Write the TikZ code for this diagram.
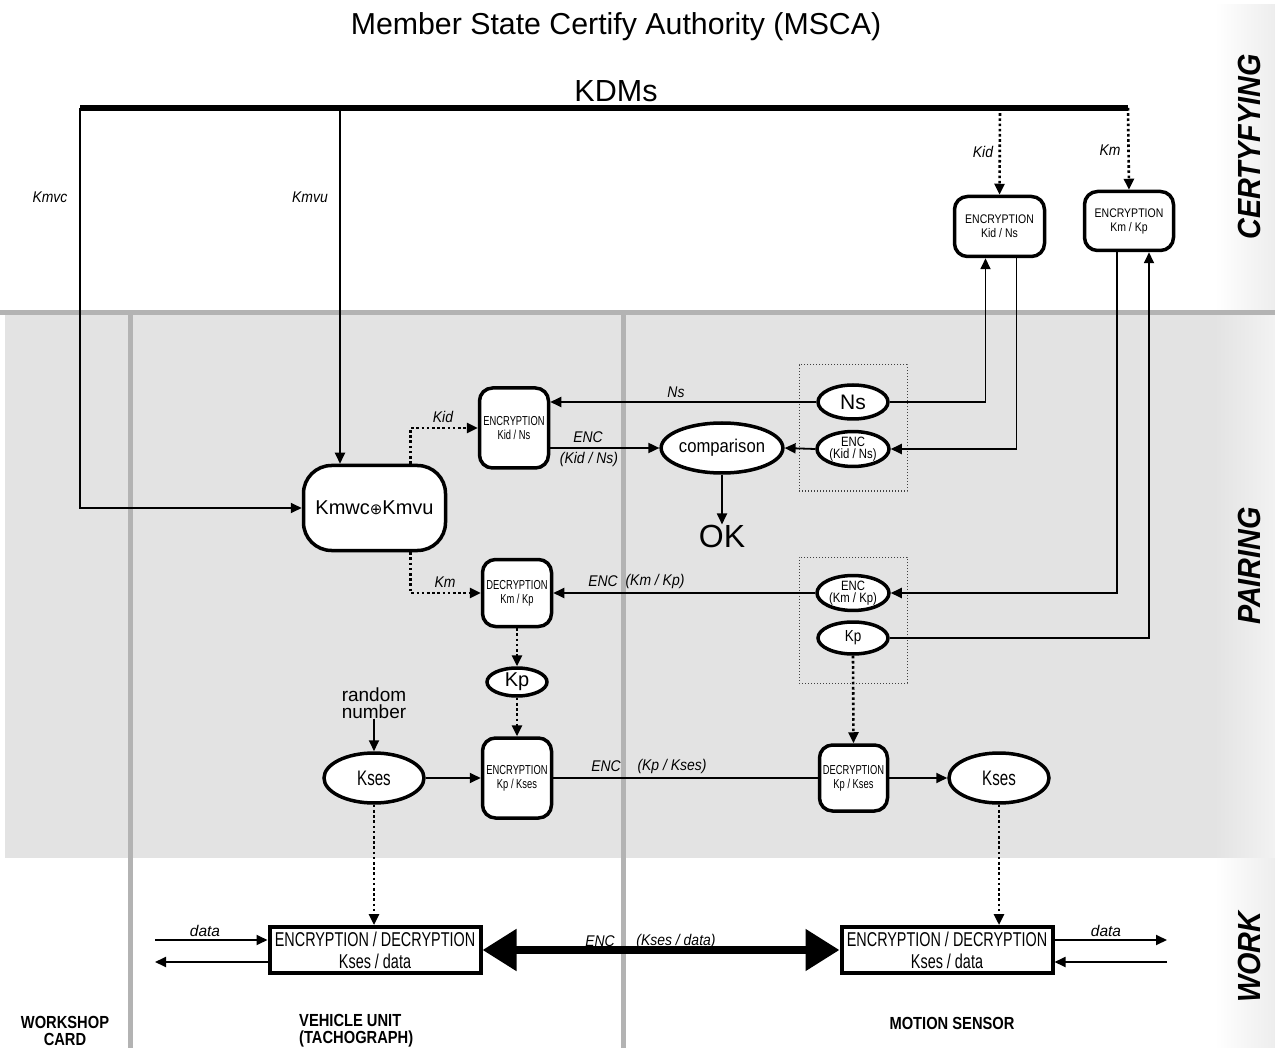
\documentclass[tikz,border=0pt]{standalone}
\usepackage{fontspec}
\setmainfont{Liberation Sans}
\newfontfamily\fA[FakeStretch=0.72]{Liberation Sans}
\newfontfamily\fB[FakeStretch=0.84]{Liberation Sans}
\newfontfamily\fC[FakeStretch=0.9]{Liberation Sans}
\usetikzlibrary{arrows.meta,shapes.geometric,calc}
\definecolor{bandgray}{HTML}{E3E3E3}
\definecolor{linegray}{HTML}{B3B3B3}
\tikzset{
  rbox/.style={draw, line width=3.5pt, rounded corners=13pt, fill=white, align=center, inner sep=0pt, font=\fB\fontsize{12.5}{14}\selectfont},
  ell/.style={ellipse, draw, line width=3.5pt, fill=white, inner sep=0pt, align=center},
  conn/.style={line width=1.8pt},
  arr/.style={conn, -{Triangle[length=11pt,width=10pt]}},
  darr/.style={line width=2.6pt, dash pattern=on 2.6pt off 2.6pt, -{Triangle[length=11pt,width=10pt]}},
  lab/.style={font=\fC\itshape\fontsize{15.5}{16}\selectfont, inner sep=0pt},
  grp/.style={draw=black!75, line width=1pt, dotted, inner sep=0pt},
  edbox/.style={draw, line width=4pt, fill=white, align=center, inner sep=0pt, minimum width=211pt, minimum height=46pt, font=\fA\fontsize{20}{22}\selectfont},
  side/.style={rotate=90, font=\fC\bfseries\itshape\fontsize{32}{34}\selectfont, inner sep=0pt},
  bottomlab/.style={font=\fB\bfseries\fontsize{17.5}{17}\selectfont, inner sep=0pt, align=center}
}
\begin{document}
\begin{tikzpicture}[x=1pt,y=-1pt]
\useasboundingbox (0,0) rectangle (1275,1048);
% backgrounds
\fill[white] (0,0) rectangle (1275,1048);
\fill[bandgray] (5,315) rectangle (1215,858);
\shade[left color=white, right color=black!7] (1215,5) rectangle (1275,313);
\shade[left color=bandgray, right color=black!5] (1215,315) rectangle (1275,858);
\shade[left color=white, right color=black!7] (1215,858) rectangle (1275,1048);
\draw[line width=5pt, linegray] (0,313) -- (1275,313);
\draw[line width=5pt, linegray] (130,313) -- (130,1048);
\draw[line width=5pt, linegray] (623,313) -- (623,1048);

% titles
\node[inner sep=0pt, font=\fontsize{30.3}{32}\selectfont] (title) at (616,27) {Member State Certify Authority (MSCA)};
\node[inner sep=0pt, font=\fontsize{30.5}{32}\selectfont] (kdms) at (616,91) {KDMs};
\coordinate (kdmL) at (80,108);
\coordinate (kdmR) at (1128,108);
\coordinate (kdmV) at (340,108);
\coordinate (kdmKid) at (1000,108);
\draw[line width=6pt] (kdmL) -- (kdmR);

% side labels
\node[side] (sCert) at (1249,147) {CERTYFYING};
\node[side] (sPair) at (1249,566) {PAIRING};
\node[side] (sWork) at (1249,957) {WORK};

% bottom labels
\node[bottomlab] (bWork) at (65,1031) {WORKSHOP\\CARD};
\node[bottomlab, align=left, anchor=west] (bVeh) at (299,1031) {VEHICLE UNIT\\(TACHOGRAPH)};
\node[bottomlab] (bMot) at (952,1023) {MOTION SENSOR};

% group rectangles
\node[grp, minimum width=108pt, minimum height=126pt] (grp1) at (853,428) {};
\node[grp, minimum width=108pt, minimum height=126pt] (grp2) at (853,620) {};

% boxes
\node[rbox, minimum width=90pt, minimum height=60pt] (encA) at (999.5,226.5) {ENCRYPTION\\Kid / Ns};
\node[rbox, minimum width=89pt, minimum height=59pt] (encB) at (1129,221) {ENCRYPTION\\Km / Kp};
\node[rbox, minimum width=69pt, minimum height=80pt, font=\fA\fontsize{13}{14}\selectfont] (encC) at (514,428) {ENCRYPTION\\Kid / Ns};
\node[rbox, minimum width=69pt, minimum height=67pt, font=\fA\fontsize{13}{14}\selectfont] (decA) at (517,593) {DECRYPTION\\Km / Kp};
\node[rbox, minimum width=69pt, minimum height=80pt, font=\fA\fontsize{13}{14}\selectfont] (encD) at (517,778) {ENCRYPTION\\Kp / Kses};
\node[rbox, minimum width=68pt, minimum height=66pt, font=\fA\fontsize{13}{14}\selectfont] (decB) at (853.5,778) {DECRYPTION\\Kp / Kses};
\node[rbox, rounded corners=28pt, minimum width=142pt, minimum height=85pt, font=\fontsize{20}{22}\selectfont] (kmwc) at (374.5,508) {Kmwc{\fontspec{DejaVu Sans}\fontsize{15}{16}\selectfont ⊕}Kmvu};

% ellipses
\node[ell, minimum width=70pt, minimum height=34pt, font=\fontsize{21}{22}\selectfont] (ns) at (853,402) {Ns};
\node[ell, minimum width=72pt, minimum height=34pt, font=\fB\fontsize{13.5}{12.5}\selectfont] (encns) at (853,449) {ENC\\(Kid / Ns)};
\node[ell, minimum width=100pt, minimum height=50pt, font=\fC\fontsize{18.5}{20}\selectfont] (comp) at (722,448) {comparison};
\node[ell, minimum width=72pt, minimum height=34pt, font=\fB\fontsize{13.5}{12.5}\selectfont] (enckm) at (853,593) {ENC\\(Km / Kp)};
\node[ell, minimum width=70pt, minimum height=32pt, font=\fB\fontsize{16}{17}\selectfont] (kp2) at (853,638) {Kp};
\node[ell, minimum width=60pt, minimum height=28pt, font=\fontsize{20}{21}\selectfont] (kpA) at (517,682) {Kp};
\node[ell, minimum width=100pt, minimum height=50pt, font=\fA\fontsize{21}{22}\selectfont] (kses1) at (374,778) {Kses};
\node[ell, minimum width=100pt, minimum height=50pt, font=\fA\fontsize{21}{22}\selectfont] (kses2) at (999,778) {Kses};

\node[inner sep=0pt, font=\fontsize{32}{33}\selectfont] (ok) at (722,536) {OK};
\node[inner sep=0pt, align=center, font=\fontsize{19}{17}\selectfont] (rand) at (374,703) {random\\number};

% work boxes
\node[edbox] (ed1) at (375,950) {ENCRYPTION / DECRYPTION\\Kses / data};
\node[edbox] (ed2) at (947,950) {ENCRYPTION / DECRYPTION\\Kses / data};

% connectors from KDMs
\draw[arr] (kdmL) |- (kmwc.west);
\draw[arr] (kdmV) -- (kdmV |- kmwc.north);
\draw[darr] (kdmKid) -- (encA.north);
\draw[darr] (kdmR) -- (encB.north);

% certifying <-> pairing
\draw[arr] (ns.east) -| ($(encA.south)+(-14,0)$);
\draw[arr] ($(encA.south)+(17,0)$) |- (encns.east);
\draw[arr] ($(encB.south)+(-12,0)$) |- (enckm.east);
\draw[arr] (kp2.east) -| ($(encB.south)+(20,0)$);

% pairing
\draw[arr] (ns.west) -- (ns.west -| encC.east);
\draw[arr] (encns.west) -- (comp.east);
\draw[arr] (encC.east |- comp.west) -- (comp.west);
\draw[arr] (comp.south) -- (ok.north);
\draw[darr] ($(kmwc.north)+(36,0)$) |- (encC.west);
\draw[darr] ($(kmwc.south)+(36,0)$) |- (decA.west);
\draw[arr] (enckm.west) -- (decA.east);
\draw[darr] (decA.south) -- (kpA.north);
\draw[darr] (kpA.south) -- (encD.north);
\draw[darr] (kp2.south) -- (decB.north);
\draw[arr] (rand.south) -- (kses1.north);
\draw[arr] (kses1.east) -- (encD.west);
\draw[conn] (encD.east) -- (decB.west);
\draw[arr] (decB.east) -- (kses2.west);

% work
\draw[darr] (kses1.south) -- (kses1.south |- ed1.north);
\draw[darr] (kses2.south) -- (kses2.south |- ed2.north);
\draw[line width=8pt, {Triangle[length=34pt,width=40pt]}-{Triangle[length=34pt,width=40pt]}] (ed1.east) -- (ed2.west);
\coordinate (dl1) at (155,940);
\coordinate (dl2) at (155,962);
\coordinate (dr1) at (1167,940);
\coordinate (dr2) at (1167,962);
\draw[arr] (dl1) -- (dl1 -| ed1.west);
\draw[arr] (dl2 -| ed1.west) -- (dl2);
\draw[arr] (dr1 -| ed2.east) -- (dr1);
\draw[arr] (dr2) -- (dr2 -| ed2.east);

% labels
\node[lab] (lKmvc) at (50,197) {Kmvc};
\node[lab] (lKmvu) at (310,197) {Kmvu};
\node[lab] (lKid1) at (983,152) {Kid};
\node[lab] (lKm1) at (1110,150) {Km};
\node[lab] (lNs) at (676,392) {Ns};
\node[lab] (lKid2) at (443,417) {Kid};
\node[lab] (lEnc1) at (588,437) {ENC};
\node[lab] (lEnc1b) at (589,459) {(Kid / Ns)};
\node[lab] (lKm2) at (445,582) {Km};
\node[lab] (lEnc2) at (603,581) {ENC};
\node[lab] (lEnc2b) at (655,581) {(Km / Kp)};
\node[lab] (lEnc3) at (606,766) {ENC};
\node[lab] (lEnc3b) at (672,766) {(Kp / Kses)};
\node[lab] (lEnc4) at (600,941) {ENC};
\node[lab] (lEnc4b) at (676,941) {(Kses / data)};
\node[lab, font=\itshape\fontsize{15.5}{16}\selectfont] (lData1) at (205,931) {data};
\node[lab, font=\itshape\fontsize{15.5}{16}\selectfont] (lData2) at (1106,931) {data};
\end{tikzpicture}
\end{document}
